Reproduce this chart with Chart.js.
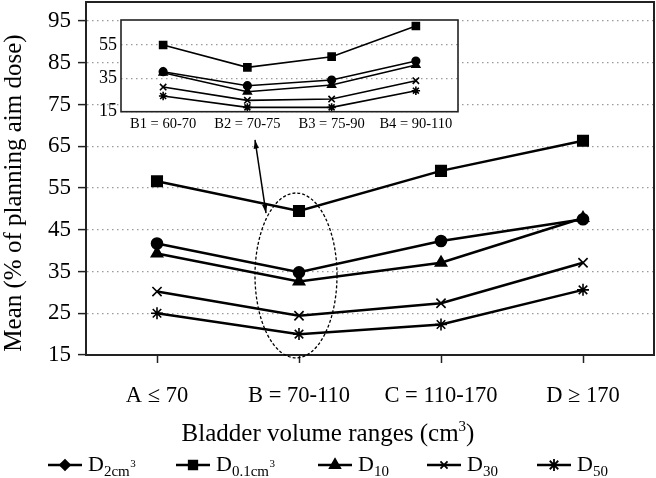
<!DOCTYPE html>
<html>
<head>
<meta charset="utf-8">
<script src="https://cdn.jsdelivr.net/npm/chart.js@4.4.1/dist/chart.umd.min.js"></script>
<style>
  html, body { margin: 0; padding: 0; background: #fff; }
  #wrap { position: relative; width: 656px; height: 478px; }
  #mainChart { position: absolute; left: 0; top: 0; }
  #insetChart { position: absolute; left: 85px; top: 12px; }
</style>
</head>
<body>
<div id="wrap">
  <canvas id="mainChart" width="656" height="478"></canvas>
  <canvas id="insetChart" width="380" height="126"></canvas>
</div>
<script>
// bladder volume ranges (main plot)
const rangeLabels = ['A \u2264 70', 'B = 70-110', 'C = 110-170', 'D \u2265 170'];
const d2cc = [41.7, 34.8, 42.3, 47.5];
const d01cc = [56.6, 49.5, 59.1, 66.3];
const d10 = [39.3, 32.6, 37.1, 47.8];
const d30 = [30.2, 24.4, 27.4, 37.1];
const d50 = [25.0, 20.0, 22.3, 30.6];
const yTicks = [15, 25, 35, 45, 55, 65, 75, 85, 95];

// sub ranges of B (inset plot)
const subLabels = ['B1 = 60-70', 'B2 = 70-75', 'B3 = 75-90', 'B4 = 90-110'];
const subD2cc = [39.0, 30.6, 34.0, 45.4];
const subD01cc = [55.0, 41.6, 48.0, 66.4];
const subD10 = [38.4, 27.0, 31.0, 43.0];
const subD30 = [29.8, 21.8, 22.6, 33.6];
const subD50 = [24.4, 17.6, 17.6, 27.6];
const insetTicks = [15, 35, 55];

const serif = "'Liberation Serif', 'DejaVu Serif', serif";

// one black line series
function series (label, values, style, radius, width) {
    return {
        label: label,
        data: values,
        borderColor: '#000',
        backgroundColor: '#000',
        borderWidth: width,
        pointStyle: style,
        pointRadius: radius,
        pointBorderWidth: 1.6,
        pointBackgroundColor: '#000',
        pointBorderColor: '#000',
        tension: 0
    };
}

// draw text "D" with subscript and optional superscript
function drawD (ctx, x, baseline, sub, sup) {
    ctx.textAlign = 'left';
    ctx.textBaseline = 'alphabetic';
    ctx.font = '22px ' + serif;
    ctx.fillText('D', x, baseline);
    x += ctx.measureText('D').width;
    ctx.font = '15px ' + serif;
    ctx.fillText(sub, x, baseline + 5);
    x += ctx.measureText(sub).width;
    if (sup) {
        ctx.font = '11px ' + serif;
        ctx.fillText(sup, x + 0.5, baseline - 4);
    }
}

const legendItems = [
    { sub: '2cm', sup: '3', style: 'rectRot', r: 5 },
    { sub: '0.1cm', sup: '3', style: 'rect', r: 6 },
    { sub: '10', sup: '', style: 'triangle', r: 6 },
    { sub: '30', sup: '', style: 'crossRot', r: 5 },
    { sub: '50', sup: '', style: 'star', r: 6 }
];
const legendX = [48, 176, 318, 427, 537];

// frame, ellipse, arrow, axis titles and legend of the main chart
const extrasPlugin = {
    id: 'extras',
    afterDraw (chart) {
        const { ctx, chartArea: a, scales: { x, y } } = chart;
        ctx.save();

        // box round the plot
        ctx.strokeStyle = '#222';
        ctx.lineWidth = 2;
        ctx.strokeRect(a.left, a.top, a.right - a.left, a.bottom - a.top);

        // dashed ellipse round category B
        const cx = x.getPixelForValue(1) - 3;
        const top = y.getPixelForValue(53.8);
        const bot = y.getPixelForValue(14.3);
        ctx.beginPath();
        ctx.setLineDash([3, 2]);
        ctx.lineWidth = 1.3;
        ctx.strokeStyle = '#000';
        ctx.ellipse(cx, (top + bot) / 2, 41, (bot - top) / 2, 0, 0, Math.PI * 2);
        ctx.stroke();
        ctx.setLineDash([]);

        // double arrow from the ellipse to the inset
        const x1 = cx - 41;
        const y1 = y.getPixelForValue(66.5);
        const x2 = cx - 30;
        const y2 = y.getPixelForValue(49.0);
        ctx.lineWidth = 1.5;
        ctx.beginPath();
        ctx.moveTo(x1, y1);
        ctx.lineTo(x2, y2);
        ctx.stroke();
        const ang = Math.atan2(y2 - y1, x2 - x1);
        [[x2, y2, ang], [x1, y1, ang + Math.PI]].forEach(function (h) {
            ctx.beginPath();
            ctx.moveTo(h[0], h[1]);
            ctx.lineTo(h[0] - 9 * Math.cos(h[2] - 0.3), h[1] - 9 * Math.sin(h[2] - 0.3));
            ctx.lineTo(h[0] - 9 * Math.cos(h[2] + 0.3), h[1] - 9 * Math.sin(h[2] + 0.3));
            ctx.closePath();
            ctx.fill();
        });

        // y axis title
        ctx.fillStyle = '#000';
        ctx.font = '25px ' + serif;
        ctx.textAlign = 'center';
        ctx.textBaseline = 'middle';
        ctx.save();
        ctx.translate(14, 193);
        ctx.rotate(-Math.PI / 2);
        ctx.fillText('Mean (% of planning aim dose)', 0, 0);
        ctx.restore();

        // x axis title with superscript
        const main = 'Bladder volume ranges (cm';
        ctx.font = '25px ' + serif;
        const w1 = ctx.measureText(main).width;
        const w2 = ctx.measureText(')').width;
        ctx.font = '15px ' + serif;
        const w3 = ctx.measureText('3').width;
        let tx = 328 - (w1 + w2 + w3) / 2;
        ctx.textAlign = 'left';
        ctx.textBaseline = 'alphabetic';
        ctx.font = '25px ' + serif;
        ctx.fillText(main, tx, 441);
        tx += w1;
        ctx.font = '15px ' + serif;
        ctx.fillText('3', tx, 431);
        tx += w3;
        ctx.font = '25px ' + serif;
        ctx.fillText(')', tx, 441);

        // legend
        legendItems.forEach(function (item, i) {
            const lx = legendX[i];
            const ly = 465;
            ctx.lineWidth = 2.5;
            ctx.strokeStyle = '#000';
            ctx.fillStyle = '#000';
            ctx.beginPath();
            ctx.moveTo(lx, ly);
            ctx.lineTo(lx + 34, ly);
            ctx.stroke();
            ctx.lineWidth = 1.8;
            Chart.helpers.drawPoint(ctx, { pointStyle: item.style, radius: item.r, rotation: 0, borderWidth: 1.8 }, lx + 17, ly);
            drawD(ctx, lx + 40, 471, item.sub, item.sup);
        });

        ctx.restore();
    }
};

const mainChart = new Chart(document.getElementById('mainChart'), {
    type: 'line',
    data: {
        labels: rangeLabels,
        datasets: [
            series('D2cm3', d2cc, 'circle', 5.5, 2.5),
            series('D0.1cm3', d01cc, 'rect', 7.4, 2.5),
            series('D10', d10, 'triangle', 6.5, 2.5),
            series('D30', d30, 'crossRot', 6.5, 2.5),
            series('D50', d50, 'star', 6, 2.5)
        ]
    },
    options: {
        responsive: false,
        animation: false,
        layout: { autoPadding: false, padding: { left: 0, right: 2, top: 2, bottom: 0 } },
        plugins: {
            legend: { display: false },
            tooltip: { enabled: false }
        },
        scales: {
            x: {
                offset: true,
                grid: { drawOnChartArea: false, tickLength: 8, tickColor: '#222', tickWidth: 1.5 },
                border: { color: '#222', width: 2 },
                ticks: { color: '#000', font: { family: serif, size: 22.5 }, padding: 20, maxRotation: 0, autoSkip: false },
                afterFit: function (s) {
                    s.height = 123;
                    s.paddingLeft = 0;
                    s.paddingRight = 0;
                }
            },
            y: {
                min: 15,
                max: 99.55,
                afterBuildTicks: function (s) {
                    s.ticks = yTicks.map(v => ({ value: v }));
                },
                grid: { color: '#9a9a9a', lineWidth: 1.2, tickLength: 8, tickColor: '#222', tickWidth: 1.5 },
                border: { color: '#222', width: 2, dash: [1.5, 3.5] },
                ticks: { color: '#000', font: { family: serif, size: 23 }, padding: 7 },
                afterFit: function (s) {
                    s.width = 86;
                    s.paddingTop = 0;
                    s.paddingBottom = 0;
                }
            }
        }
    },
    plugins: [extrasPlugin]
});

// white plot background and frame of the inset
const insetFrame = {
    id: 'insetFrame',
    beforeDraw (chart) {
        const { ctx, chartArea: a } = chart;
        ctx.save();
        ctx.fillStyle = '#fff';
        ctx.fillRect(a.left, a.top, a.right - a.left, a.bottom - a.top);
        ctx.restore();
    },
    afterDraw (chart) {
        const { ctx, chartArea: a } = chart;
        ctx.save();
        ctx.strokeStyle = '#222';
        ctx.lineWidth = 1.6;
        ctx.strokeRect(a.left, a.top, a.right - a.left, a.bottom - a.top);
        ctx.restore();
    }
};

const insetChart = new Chart(document.getElementById('insetChart'), {
    type: 'line',
    data: {
        labels: subLabels,
        datasets: [
            series('D2cm3', subD2cc, 'circle', 3.8, 1.6),
            series('D0.1cm3', subD01cc, 'rect', 5, 1.6),
            series('D10', subD10, 'triangle', 4.5, 1.6),
            series('D30', subD30, 'crossRot', 4.5, 1.6),
            series('D50', subD50, 'star', 4.2, 1.6)
        ]
    },
    options: {
        responsive: false,
        animation: false,
        layout: { autoPadding: false, padding: { left: 0, right: 7, top: 8, bottom: 0 } },
        plugins: {
            legend: { display: false },
            tooltip: { enabled: false }
        },
        scales: {
            x: {
                offset: true,
                grid: { display: false, drawTicks: false },
                border: { display: false },
                ticks: { color: '#000', font: { family: serif, size: 14.5 }, padding: 4, maxRotation: 0, autoSkip: false },
                afterFit: function (s) {
                    s.height = 26.3;
                    s.paddingLeft = 0;
                    s.paddingRight = 0;
                }
            },
            y: {
                min: 15,
                max: 70,
                afterBuildTicks: function (s) {
                    s.ticks = insetTicks.map(v => ({ value: v }));
                },
                grid: { color: '#9a9a9a', lineWidth: 1.2, drawTicks: false },
                border: { display: false, dash: [1.5, 3.5] },
                ticks: { color: '#000', font: { family: serif, size: 18 }, padding: 4 },
                afterFit: function (s) {
                    s.width = 36;
                    s.paddingTop = 0;
                    s.paddingBottom = 0;
                }
            }
        }
    },
    plugins: [insetFrame]
});
</script>
</body>
</html>
